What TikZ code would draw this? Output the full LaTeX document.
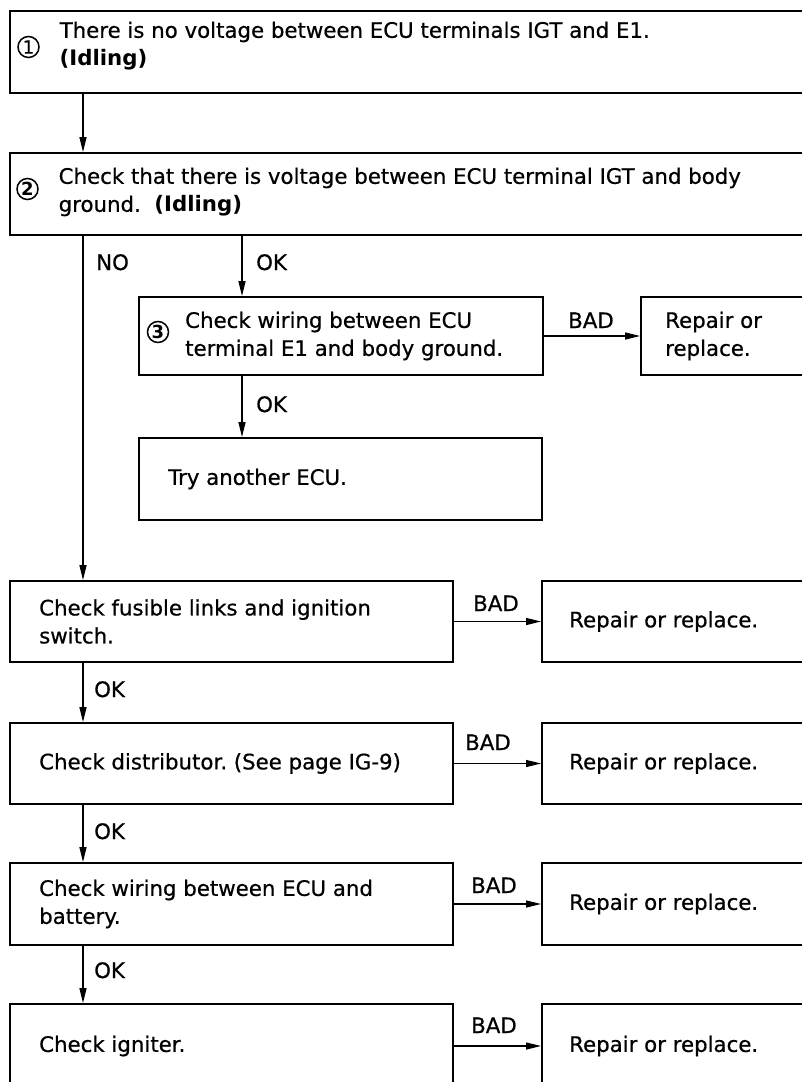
\documentclass[tikz,border=0pt]{standalone}
\usepackage{fontspec}
\setmainfont{DejaVu Sans}[UprightFeatures={FakeBold=0.6}]
\usetikzlibrary{arrows.meta}
\frenchspacing
\newcommand{\mainsz}{\fontsize{21.3}{28}\selectfont}
\begin{document}
\begin{tikzpicture}[x=1pt,y=-1pt,
  box/.style={draw, line width=2pt, anchor=north west, inner sep=0pt},
  txt/.style={anchor=west, align=left, inner sep=0pt, font=\mainsz},
  lbl/.style={anchor=base west, inner sep=0pt, font=\mainsz},
  num/.style={circle, draw, line width=1.5pt, minimum size=21pt, inner sep=0pt, font=\fontsize{18}{18}\selectfont},
  arr/.style={line width=1.3pt, -{Triangle[length=15pt,width=7pt]}}]
\path[use as bounding box] (0,0) rectangle (802,1082);
\clip (0,0) rectangle (802,1082);

% boxes
\node[box, minimum width=830pt, minimum height=82pt] (b1) at (8.5,10) {};
\node[box, minimum width=830pt, minimum height=82pt] (b2) at (8.5,152) {};
\node[box, minimum width=404pt, minimum height=78pt] (b3) at (138,296) {};
\node[box, minimum width=200pt, minimum height=78pt] (r3) at (640,296) {};
\node[box, minimum width=403pt, minimum height=82pt] (b4) at (138,437) {};
\node[box, minimum width=443.5pt, minimum height=81pt] (b5) at (8.5,580) {};
\node[box, minimum width=300pt, minimum height=81pt] (r5) at (541,580) {};
\node[box, minimum width=443.5pt, minimum height=81pt] (b6) at (8.5,722) {};
\node[box, minimum width=300pt, minimum height=81pt] (r6) at (541,722) {};
\node[box, minimum width=443.5pt, minimum height=82pt] (b7) at (8.5,862) {};
\node[box, minimum width=300pt, minimum height=82pt] (r7) at (541,862) {};
\node[box, minimum width=443.5pt, minimum height=84pt] (b8) at (8.5,1003) {};
\node[box, minimum width=300pt, minimum height=84pt] (r8) at (541,1003) {};

% texts
\node[txt] (t1) at ([xshift=51pt,yshift=6pt]b1.west) {There is no voltage between ECU terminals IGT and E1.\\\textbf{(Idling)}};
\node[txt] (t2) at ([xshift=50pt,yshift=2pt]b2.west) {Check that there is voltage between ECU terminal IGT and body\\ground.\ \ \textbf{(Idling)}};
\node[txt] (t3) at ([xshift=47pt]b3.west) {Check wiring between ECU\\terminal E1 and body ground.};
\node[txt] (tr3) at ([xshift=25pt]r3.west) {Repair or\\replace.};
\node[txt] (t4) at ([xshift=30pt]b4.west) {Try another ECU.};
\node[txt] (t5) at ([xshift=30.5pt]b5.west) {Check fusible links and ignition\\switch.};
\node[txt] (tr5) at ([xshift=28pt]r5.west) {Repair or replace.};
\node[txt] (t6) at ([xshift=30.5pt]b6.west) {Check distributor. (See page IG-9)};
\node[txt] (tr6) at ([xshift=28pt]r6.west) {Repair or replace.};
\node[txt] (t7) at ([xshift=30.5pt]b7.west) {Check wiring between ECU and\\battery.};
\node[txt] (tr7) at ([xshift=28pt]r7.west) {Repair or replace.};
\node[txt] (t8) at ([xshift=30.5pt]b8.west) {Check igniter.};
\node[txt] (tr8) at ([xshift=28pt]r8.west) {Repair or replace.};

% circled numbers
\node[num] (n1) at (28.5,47) {1};
\node[num, font=\fontsize{18}{18}\selectfont\bfseries] (n2) at (27.5,189) {2};
\node[num, font=\fontsize{18}{18}\selectfont\bfseries] (n3) at (158,332) {3};

% connector coordinates
\coordinate (xl1) at ([xshift=74.5pt]b1.south west);
\coordinate (xl2) at ([xshift=74.5pt]b2.south west);
\coordinate (xl5) at ([xshift=74.5pt]b5.south west);
\coordinate (xl6) at ([xshift=74.5pt]b6.south west);
\coordinate (xl7) at ([xshift=74.5pt]b7.south west);
\coordinate (xm3) at ([xshift=104pt]b3.north west);
\coordinate (xm4) at ([xshift=104pt]b4.north west);

% connectors
\draw[arr] (xl1) -- (xl1 |- b2.north);
\draw[arr] (xl2) -- (xl2 |- b5.north);
\draw[arr] (xm3 |- b2.south) -- (xm3);
\draw[arr] (xm4 |- b3.south) -- (xm4);
\draw[arr] (b3.east) -- (r3.west);
\draw[arr] (xl5) -- (xl5 |- b6.north);
\draw[arr] (xl6) -- (xl6 |- b7.north);
\draw[arr] (xl7) -- (xl7 |- b8.north);
\draw[arr] (b5.east) -- (r5.west);
\draw[arr] (b6.east) -- (r6.west);
\draw[arr] (b7.east) -- (r7.west);
\draw[arr] (b8.east) -- (r8.west);

% labels
\node[lbl] (lno) at (96,270) {NO};
\node[lbl] (lok1) at (256,270) {OK};
\node[lbl] (lok2) at (256,412) {OK};
\node[lbl] (lbad3) at (568,328) {BAD};
\node[lbl] (lbad5) at (473,611) {BAD};
\node[lbl] (lok5) at (94,697) {OK};
\node[lbl] (lbad6) at (465,750) {BAD};
\node[lbl] (lok6) at (94,839) {OK};
\node[lbl] (lbad7) at (471,893) {BAD};
\node[lbl] (lok7) at (94,978) {OK};
\node[lbl] (lbad8) at (471,1033) {BAD};
\end{tikzpicture}
\end{document}
